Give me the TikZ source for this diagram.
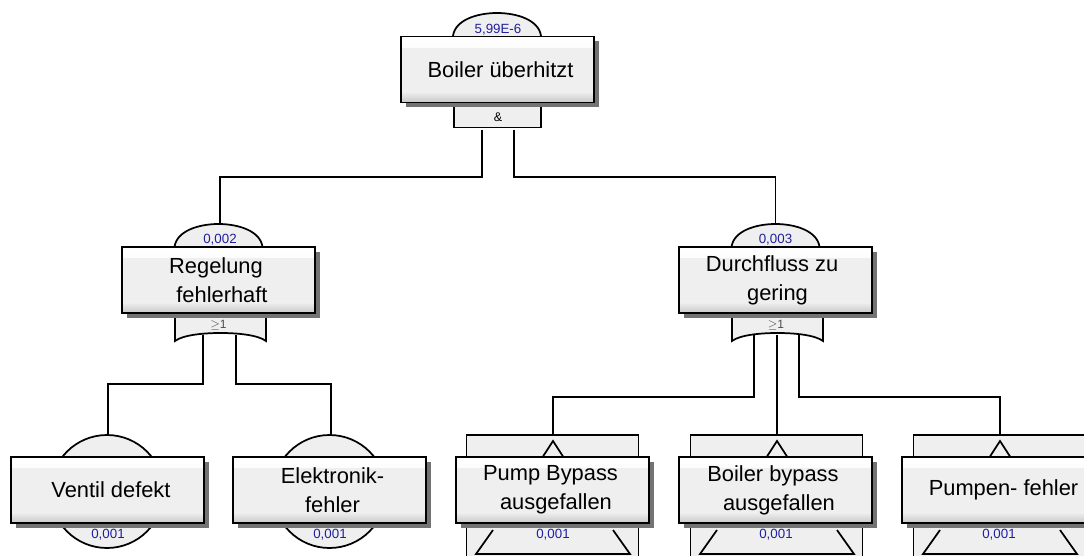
\documentclass[tikz,border=0pt]{standalone}
\usepackage{fontspec}
\setmainfont{Liberation Sans}
\usetikzlibrary{shadows}
\definecolor{boxg}{HTML}{EFEFEF}
\definecolor{boxb}{HTML}{C8C8C8}
\definecolor{probblue}{HTML}{1F1F9F}
\tikzset{
  wire/.style={draw=black,line width=1.3pt},
  symb/.style={draw=black,fill=boxg,line width=1.3pt,line join=miter},
  evbox/.style={draw=black,fill=boxg,line width=1.3pt,minimum width=144.75pt,minimum height=49.5pt,inner sep=0pt,align=center,
    font=\fontsize{16.4}{21.75}\selectfont,
    drop shadow={shadow xshift=3.75pt,shadow yshift=-3.75pt,fill=black!55,opacity=1},
    path picture={
      \shade[top color=white,bottom color=boxg] (path picture bounding box.north west) rectangle ([yshift=-8pt]path picture bounding box.north east);
      \shade[top color=boxg,bottom color=boxb] ([yshift=8pt]path picture bounding box.south west) rectangle (path picture bounding box.south east);
    }},
  prob/.style={text=probblue,font=\fontsize{10}{12}\selectfont,inner sep=0pt},
  gatetxt/.style={font=\fontsize{9.4}{11}\selectfont,inner sep=0pt},
  ortxt/.style={text=black!70,font=\fontsize{9}{11}\selectfont,inner sep=0pt},
}
\newcommand{\archsym}[2]{% centre x, top y
  \draw[symb] (#1-44,#2+23) .. controls (#1-42,#2+7) and (#1-20,#2) .. (#1,#2) .. controls (#1+20,#2) and (#1+42,#2+7) .. (#1+44,#2+23);}
\newcommand{\orsym}[1]{% left x
  \draw[symb] (#1,316) -- (#1,341) .. controls (#1+8,335) and (#1+28,333) .. (#1+45.5,333) .. controls (#1+63,333) and (#1+83,335) .. (#1+91,341) -- (#1+91,316);}
\newcommand{\circsym}[1]{\draw[symb] (#1,491.5) circle [x radius=56.5,y radius=56.5];}
\newcommand{\transsym}[1]{% apex x
  \draw[symb] (#1-86.5,435) rectangle (#1+85.5,570);
  \draw[line width=1.3pt,line join=miter] (#1-11,458) -- (#1,441) -- (#1+11,458);
  \draw[line width=1.3pt,line join=miter] (#1-60,530) -- (#1-77,554) -- (#1+77,554) -- (#1+60,530);}
\begin{document}
\begin{tikzpicture}[x=0.75pt,y=-0.75pt]
\clip (0,0) rectangle (1084,556);

% connector ends
\coordinate (g0l) at (482,130);
\coordinate (g0r) at (514,130);
\coordinate (b0l) at (220,177);
\coordinate (b0r) at (775.5,177);
\coordinate (t1) at (220,224);
\coordinate (t2) at (775.5,224);
\coordinate (g1l) at (203,335);
\coordinate (g1r) at (236,335);
\coordinate (b1l) at (108,384);
\coordinate (b1r) at (331,384);
\coordinate (t3) at (108,435);
\coordinate (t4) at (331,435);
\coordinate (g2l) at (754,335);
\coordinate (g2m) at (777,335);
\coordinate (g2r) at (799,335);
\coordinate (b2l) at (553,397);
\coordinate (b2r) at (1000,397);
\coordinate (t5) at (553,441);
\coordinate (t6) at (777,441);
\coordinate (t7) at (1000,441);

\draw[wire] (g0l) |- (b0l) -- (t1);
\draw[wire] (g0r) |- (b0r) -- (t2);
\draw[wire] (g1l) |- (b1l) -- (t3);
\draw[wire] (g1r) |- (b1r) -- (t4);
\draw[wire] (g2l) |- (b2l) -- (t5);
\draw[wire] (g2m) -- (t6);
\draw[wire] (g2r) |- (b2r) -- (t7);

% symbols behind the event boxes
\archsym{497}{13}
\archsym{218.5}{224}
\archsym{775.5}{224}
\draw[symb] (454,100) rectangle (541,127.5);
\orsym{175}
\orsym{732}
\circsym{107}
\circsym{329.5}
\transsym{553}
\transsym{777}
\transsym{1000}

% event boxes
\node[evbox] (top) at (497.5,69.5) {\hspace*{4.5pt}Boiler überhitzt};
\node[evbox] (regel) at (218.5,280) {\hspace*{-3.8pt}Regelung\\\hspace*{5.2pt}fehlerhaft};
\node[evbox] (durch) at (775.5,280) {\hspace*{-5.2pt}Durchfluss zu\\\hspace*{3pt}gering};
\node[evbox] (ventil) at (107.5,490) {\hspace*{5.2pt}Ventil defekt};
\node[evbox] (elek) at (329.5,490) {\hspace*{4.5pt}Elektronik-\\\hspace*{4.5pt}fehler};
\node[evbox] (pump) at (552.5,490) {\hspace*{-3pt}Pump Bypass\\\hspace*{5.2pt}ausgefallen};
\node[evbox] (boiler) at (775.5,490) {\hspace*{-3.8pt}Boiler bypass\\\hspace*{5.2pt}ausgefallen};
\node[evbox] (pumpen) at (998.5,490) {\hspace*{7.5pt}Pumpen- fehler};

% gate labels
\node[gatetxt] (and0) at (498,117) {\&};
\node[ortxt] (or1) at (218.5,325.5) {$\geq$1};
\node[ortxt] (or2) at (776,325.5) {$\geq$1};

% probabilities
\node[prob] (p0) at (498,29.5) {5,99E-6};
\node[prob] (p1) at (220,239.5) {0,002};
\node[prob] (p2) at (775.5,239.5) {0,003};
\node[prob] (p3) at (108,534.5) {0,001};
\node[prob] (p4) at (330,534.5) {0,001};
\node[prob] (p5) at (553,534.5) {0,001};
\node[prob] (p6) at (776,534.5) {0,001};
\node[prob] (p7) at (999,534.5) {0,001};
\end{tikzpicture}
\end{document}
